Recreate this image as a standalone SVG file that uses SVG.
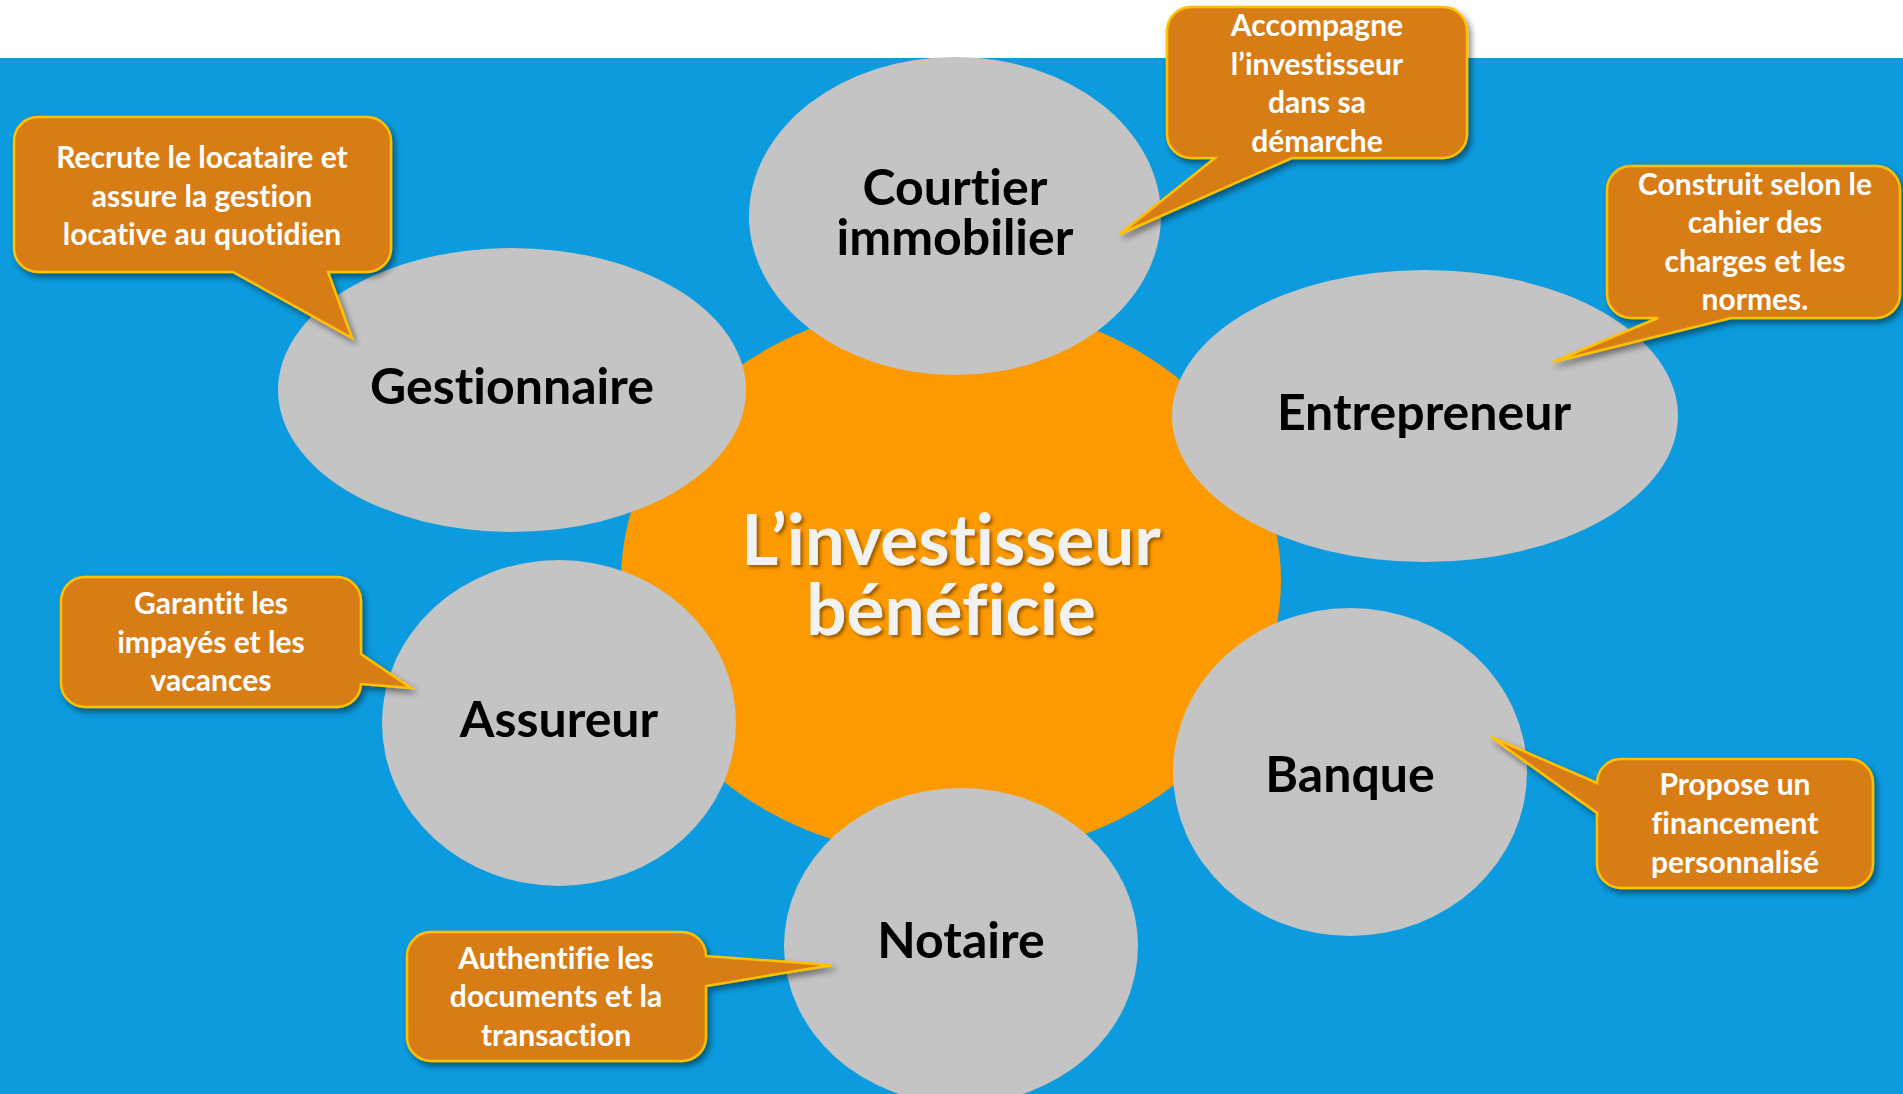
<svg xmlns="http://www.w3.org/2000/svg" width="1903" height="1094" viewBox="0 0 1903 1094">
<defs>
<style>
text{font-variant-ligatures:none;font-feature-settings:"liga" 0,"clig" 0,"dlig" 0,"calt" 0;letter-spacing:0.01px}
.bubble{fill:#C4C4C4}
.lbl{font-family:Lato,"Open Sans","DejaVu Sans",sans-serif;font-weight:700;font-size:50px;fill:#000;text-anchor:middle}
.co{fill:#D87D12;stroke:#FFC000;stroke-width:2.5;stroke-linejoin:miter;filter:url(#sh)}
.ct{font-family:Lato,"Open Sans","DejaVu Sans",sans-serif;font-weight:700;font-size:30px;fill:#FFFFFF;text-anchor:middle}
.big{font-family:Lato,"Open Sans","DejaVu Sans",sans-serif;font-weight:700;font-size:71px;fill:#F2F2F2;text-anchor:middle;filter:url(#tsh)}
</style>
<filter id="sh" x="-20%" y="-20%" width="140%" height="150%">
<feDropShadow dx="3" dy="4" stdDeviation="3" flood-color="#000" flood-opacity="0.45"/>
</filter>
<filter id="tsh" x="-10%" y="-20%" width="120%" height="150%">
<feDropShadow dx="2.5" dy="2.5" stdDeviation="1.5" flood-color="#5a3300" flood-opacity="0.6"/>
</filter>
</defs>
<rect x="0" y="0" width="1903" height="1094" fill="#FFFFFF"/>
<rect x="0" y="58" width="1903" height="1036" fill="#0B9BDE"/>

<g id="center">
<ellipse cx="951" cy="580" rx="330" ry="278" fill="#FD9A00"/>
</g>

<g id="courtier">
<ellipse class="bubble" cx="955" cy="216" rx="206" ry="159"/>
<text class="lbl"><tspan x="955" y="205">Courtier</tspan><tspan x="955" y="255">immobilier</tspan></text>
</g>
<g id="gestionnaire">
<ellipse class="bubble" cx="512" cy="390" rx="234" ry="142"/>
<text class="lbl" x="512" y="404">Gestionnaire</text>
</g>
<g id="entrepreneur">
<ellipse class="bubble" cx="1425" cy="416" rx="253" ry="146"/>
<text class="lbl" x="1424" y="430" font-size="51">Entrepreneur</text>
</g>
<g id="assureur">
<ellipse class="bubble" cx="559" cy="723" rx="177" ry="163"/>
<text class="lbl" x="559" y="737">Assureur</text>
</g>
<g id="banque">
<ellipse class="bubble" cx="1350" cy="772" rx="177" ry="164"/>
<text class="lbl" x="1350" y="792">Banque</text>
</g>
<g id="notaire">
<ellipse class="bubble" cx="961" cy="946" rx="177" ry="158"/>
<text class="lbl" x="961" y="958">Notaire</text>
</g>

<g id="center-label">
<text class="big"><tspan x="951" y="565">L’investisseur</tspan><tspan x="951" y="635">bénéficie</tspan></text>
</g>

<g id="connectors"></g>

<g id="callout-gestionnaire">
<path class="co" d="M38,117 H367 A24,24 0 0 1 391,141 V248 A24,24 0 0 1 367,272 H328 L352,338 L233,272 H38 A24,24 0 0 1 14,248 V141 A24,24 0 0 1 38,117 Z"/>
<text class="ct"><tspan x="202" y="168">Recrute le locataire et</tspan><tspan x="202" y="207">assure la gestion</tspan><tspan x="202" y="245">locative au quotidien</tspan></text>
</g>
<g id="callout-courtier">
<path class="co" d="M1191,7 H1443 A24,24 0 0 1 1467,31 V134 A24,24 0 0 1 1443,158 H1292 L1120,234 L1215,158 H1191 A24,24 0 0 1 1167,134 V31 A24,24 0 0 1 1191,7 Z"/>
<text class="ct"><tspan x="1317" y="36">Accompagne</tspan><tspan x="1317" y="75">l’investisseur</tspan><tspan x="1317" y="113">dans sa</tspan><tspan x="1317" y="152">démarche</tspan></text>
</g>
<g id="callout-entrepreneur">
<path class="co" d="M1631,166 H1876 A24,24 0 0 1 1900,190 V294 A24,24 0 0 1 1876,318 H1731 L1553,362 L1658,318 H1631 A24,24 0 0 1 1607,294 V190 A24,24 0 0 1 1631,166 Z"/>
<text class="ct"><tspan x="1755" y="195">Construit selon le</tspan><tspan x="1755" y="233">cahier des</tspan><tspan x="1755" y="272">charges et les</tspan><tspan x="1755" y="310">normes.</tspan></text>
</g>
<g id="callout-assureur">
<path class="co" d="M85,577 H337 A24,24 0 0 1 361,601 V654 L411,688 L361,684 V683 A24,24 0 0 1 337,707 H85 A24,24 0 0 1 61,683 V601 A24,24 0 0 1 85,577 Z"/>
<text class="ct"><tspan x="211" y="614">Garantit les</tspan><tspan x="211" y="653">impayés et les</tspan><tspan x="211" y="691">vacances</tspan></text>
</g>
<g id="callout-banque">
<path class="co" d="M1621,759 H1849 A24,24 0 0 1 1873,783 V864 A24,24 0 0 1 1849,888 H1621 A24,24 0 0 1 1597,864 V813 L1491,737 L1597,783 A24,24 0 0 1 1621,759 Z"/>
<text class="ct"><tspan x="1735" y="795">Propose un</tspan><tspan x="1735" y="834">financement</tspan><tspan x="1735" y="873">personnalisé</tspan></text>
</g>
<g id="callout-notaire">
<path class="co" d="M431,932 H682 A24,24 0 0 1 706,956 L832,965 L706,986 V1037 A24,24 0 0 1 682,1061 H431 A24,24 0 0 1 407,1037 V956 A24,24 0 0 1 431,932 Z"/>
<text class="ct"><tspan x="556" y="969">Authentifie les</tspan><tspan x="556" y="1007">documents et la</tspan><tspan x="556" y="1046">transaction</tspan></text>
</g>
</svg>
